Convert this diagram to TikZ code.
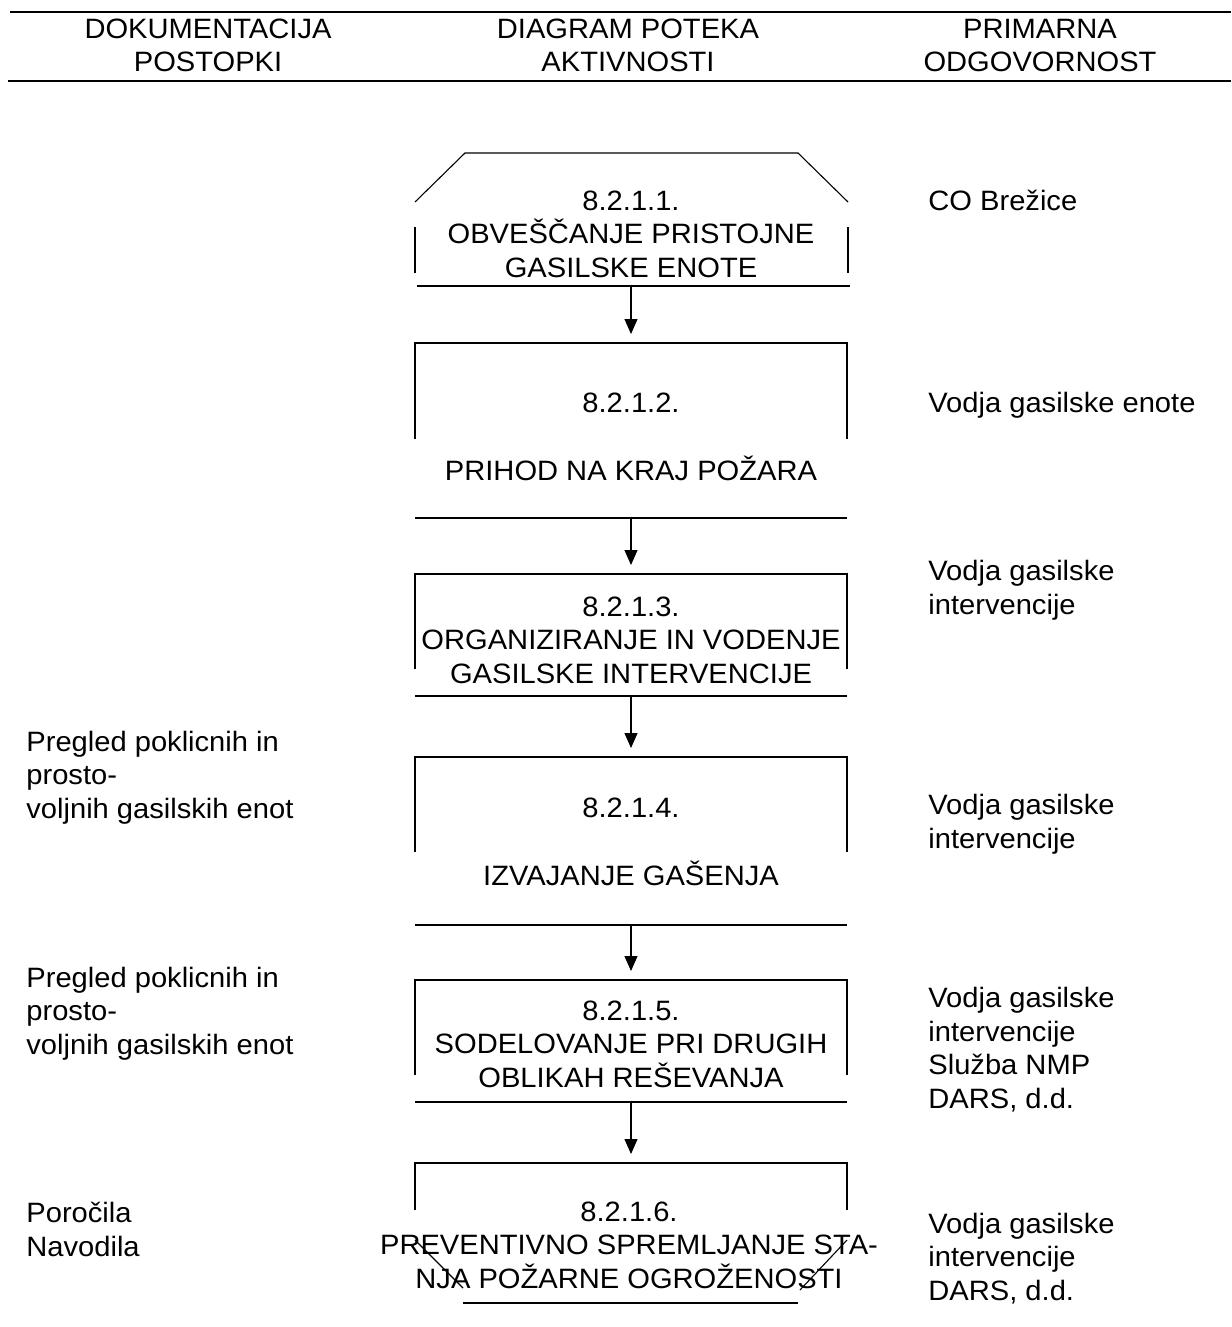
\documentclass[tikz,border=0pt]{standalone}
\usepackage{fontspec}
\setmainfont{Liberation Sans}[FakeStretch=1.04]
\usetikzlibrary{arrows.meta}

\tikzset{
	okvir/.style={line width=0.55pt},
	glava/.style={line width=1pt},
	puscica/.style={-{Triangle[length=7.5pt,width=6.5pt]}, line width=0.55pt,
		shorten >=4.5pt},
	besedilo/.style={font=\fontsize{14}{16.75}\selectfont, align=center,
		anchor=base, inner sep=0pt},
	levo/.style={font=\fontsize{14}{16.75}\selectfont, align=left,
		anchor=base west, inner sep=0pt}
}

\begin{document}
\begin{tikzpicture}[x=0.5pt, y=-0.5pt]
	\useasboundingbox (0,0) rectangle (1231,1327);

	% Glava tabele
	\draw[glava] (10,12) -- (1231,12);
	\draw[glava] (8,81) -- (1231,81);
	\node[besedilo] (gdok) at (208,72) {DOKUMENTACIJA\\POSTOPKI};
	\node[besedilo] (gdia) at (628,72) {DIAGRAM POTEKA\\AKTIVNOSTI};
	\node[besedilo] (godg) at (1040,72) {PRIMARNA\\ODGOVORNOST};

	% Prvi okvir
	\draw[okvir] (415,202) -- (465,153) -- (798,153) -- (848,202);
	\draw[okvir] (415,227) -- (415,273);
	\draw[okvir] (848,227) -- (848,273);
	\draw[okvir] (417,286) -- (850,286);
	\coordinate (o1s) at (631,286);
	\node[besedilo] (k1) at (631,277) {8.2.1.1.\\OBVEŠČANJE PRISTOJNE\\GASILSKE ENOTE};

	% Srednji okvirji
	\foreach \i/\t/\s/\b in {2/343/439/518, 3/574/669/696, 4/757/852/925,
		5/980/1075/1102}
	{
		\draw[okvir] (415,\s) -- (415,\t) -- (847,\t) -- (847,\s);
		\draw[okvir] (415,\b) -- (847,\b);
		\coordinate (o\i n) at (631,\t);
		\coordinate (o\i s) at (631,\b);
	}
	\node[besedilo] (k2) at (631,412) {8.2.1.2.};
	\node[besedilo] (k2t) at (631,480) {PRIHOD NA KRAJ POŽARA};
	\node[besedilo] (k3) at (631,683) {8.2.1.3.\\ORGANIZIRANJE IN VODENJE\\GASILSKE INTERVENCIJE};
	\node[besedilo] (k4) at (631,817) {8.2.1.4.};
	\node[besedilo] (k4t) at (631,885) {IZVAJANJE GAŠENJA};
	\node[besedilo] (k5) at (631,1087) {8.2.1.5.\\SODELOVANJE PRI DRUGIH\\OBLIKAH REŠEVANJA};

	% Zadnji okvir
	\node[besedilo] (k6) at (629,1288) {8.2.1.6.\\PREVENTIVNO SPREMLJANJE STA-\\NJA POŽARNE OGROŽENOSTI};
	\draw[okvir] (415,1210) -- (415,1163) -- (847,1163) -- (847,1210);
	\draw[okvir] (415,1240) -- (463,1288);
	\draw[okvir] (847,1240) -- (800,1290);
	\draw[okvir] (463,1303) -- (798,1303);
	\coordinate (o6n) at (631,1163);

	% Puscice
	\foreach \a/\b in {1/2, 2/3, 3/4, 4/5, 5/6}
		\draw[puscica] (o\a s) -- (o\b n);

	% Dokumentacija
	\node[levo] (d1) at (26,818) {Pregled poklicnih in\\prosto-\\voljnih gasilskih enot};
	\node[levo] (d2) at (26,1054) {Pregled poklicnih in\\prosto-\\voljnih gasilskih enot};
	\node[levo] (d3) at (26,1256) {Poročila\\Navodila};

	% Odgovornost
	\node[levo] (r1) at (928,210) {CO Brežice};
	\node[levo] (r2) at (928,412) {Vodja gasilske enote};
	\node[levo] (r3) at (928,614) {Vodja gasilske\\intervencije};
	\node[levo] (r4) at (928,848) {Vodja gasilske\\intervencije};
	\node[levo] (r5) at (928,1108) {Vodja gasilske\\intervencije\\Služba NMP\\DARS, d.d.};
	\node[levo] (r6) at (928,1300) {Vodja gasilske\\intervencije\\DARS, d.d.};
\end{tikzpicture}
\end{document}
